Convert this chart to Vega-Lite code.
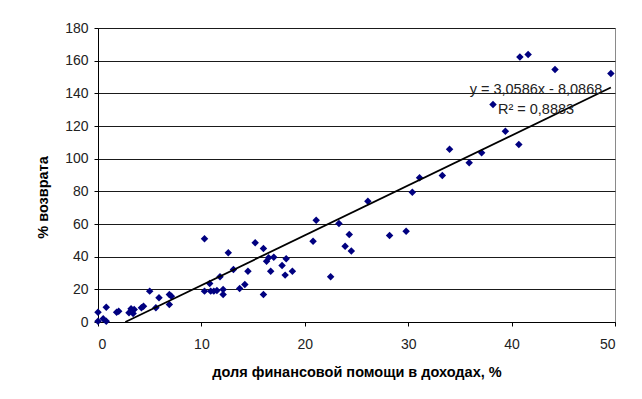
{
  "$schema": "https://vega.github.io/schema/vega-lite/v6.json",
  "autosize": {"type": "none"},
  "width": 517,
  "height": 294,
  "padding": {"left": 98, "top": 28, "right": 27, "bottom": 77},
  "background": "#ffffff",
  "config": {
    "font": "Liberation Sans",
    "view": {"stroke": "#8a8a8a", "strokeWidth": 1},
    "axis": {
      "domainColor": "#000000",
      "tickColor": "#000000",
      "tickSize": 4,
      "labelFont": "Liberation Sans",
      "labelFontSize": 14,
      "labelColor": "#222222",
      "labelOverlap": false,
      "titleFont": "Liberation Sans",
      "titleFontSize": 14.5,
      "titleFontWeight": "bold",
      "titleColor": "#000000"
    }
  },
  "datasets": {
    "points": [
      {"x": 0.0, "y": 6.0}, {"x": 0.0, "y": 0.5}, {"x": 0.5, "y": 2.0}, {"x": 0.8, "y": 9.1}, {"x": 0.8, "y": 0.5},
      {"x": 1.8, "y": 6.0}, {"x": 2.0, "y": 6.6}, {"x": 3.0, "y": 5.6}, {"x": 3.2, "y": 8.1}, {"x": 3.5, "y": 7.7},
      {"x": 3.4, "y": 5.2}, {"x": 4.2, "y": 8.7}, {"x": 4.4, "y": 9.7}, {"x": 5.0, "y": 18.9}, {"x": 5.6, "y": 8.7},
      {"x": 5.9, "y": 14.8}, {"x": 6.9, "y": 10.7}, {"x": 6.9, "y": 16.8}, {"x": 7.1, "y": 15.8}, {"x": 10.3, "y": 50.9},
      {"x": 10.3, "y": 18.9}, {"x": 10.8, "y": 23.6}, {"x": 10.9, "y": 18.9}, {"x": 11.2, "y": 18.9}, {"x": 11.5, "y": 19.3},
      {"x": 11.8, "y": 27.7}, {"x": 12.1, "y": 19.9}, {"x": 12.1, "y": 16.8}, {"x": 12.6, "y": 42.4}, {"x": 13.1, "y": 32.1},
      {"x": 13.7, "y": 20.5}, {"x": 14.2, "y": 23.0}, {"x": 14.5, "y": 31.1}, {"x": 15.2, "y": 48.5}, {"x": 16.0, "y": 45.0},
      {"x": 16.0, "y": 16.8}, {"x": 16.3, "y": 37.2}, {"x": 16.5, "y": 39.3}, {"x": 16.7, "y": 31.1}, {"x": 17.0, "y": 39.7},
      {"x": 17.8, "y": 34.6}, {"x": 18.1, "y": 28.7}, {"x": 18.2, "y": 38.7}, {"x": 18.8, "y": 31.1}, {"x": 20.8, "y": 49.5},
      {"x": 21.1, "y": 62.3}, {"x": 22.5, "y": 27.7}, {"x": 23.3, "y": 60.3}, {"x": 23.9, "y": 46.4}, {"x": 24.3, "y": 53.6},
      {"x": 24.5, "y": 43.4}, {"x": 26.1, "y": 74.0}, {"x": 28.2, "y": 53.0}, {"x": 29.8, "y": 55.6}, {"x": 30.4, "y": 79.5},
      {"x": 31.1, "y": 88.3}, {"x": 33.3, "y": 89.7}, {"x": 34.0, "y": 105.8}, {"x": 35.9, "y": 97.5}, {"x": 37.1, "y": 103.6},
      {"x": 38.2, "y": 133.2}, {"x": 39.4, "y": 116.8}, {"x": 40.7, "y": 108.7}, {"x": 40.8, "y": 162.2}, {"x": 41.6, "y": 163.8},
      {"x": 44.2, "y": 154.6}, {"x": 49.6, "y": 152.2}
    ],
    "trend": [
      {"x": 2.644, "y": 0},
      {"x": 49.6, "y": 143.6}
    ],
    "label": [
      {"text": "y = 3,0586x - 8,0868\nR² = 0,8883"}
    ]
  },
  "layer": [
    {
      "encoding": {
        "x": {
          "field": "x", "type": "quantitative",
          "scale": {"domain": [0, 50], "nice": false, "zero": false},
          "axis": {
            "values": [0, 10, 20, 30, 40, 50],
            "grid": false,
            "labelPadding": 11,
            "title": "доля финансовой помощи в доходах, %",
            "titleY": 50,
            "titleBaseline": "middle"
          }
        },
        "y": {
          "field": "y", "type": "quantitative",
          "scale": {"domain": [0, 180], "nice": false},
          "axis": {
            "values": [0, 20, 40, 60, 80, 100, 120, 140, 160, 180],
            "grid": true,
            "gridColor": "#1a1a1a",
            "gridOpacity": 1,
            "labelPadding": 6,
            "title": "% возврата",
            "titleX": -55,
            "titleY": 169,
            "titleBaseline": "middle"
          }
        }
      },
      "layer": [
        {
          "data": {"name": "points"},
          "mark": {"type": "point", "shape": "diamond", "filled": true, "color": "#000080", "opacity": 1, "size": 56}
        },
        {
          "data": {"name": "trend"},
          "mark": {"type": "line", "color": "#000000", "strokeWidth": 1.8}
        }
      ]
    },
    {
      "data": {"name": "label"},
      "mark": {"type": "text", "align": "center", "baseline": "middle", "fontSize": 14.5, "color": "#222222", "lineBreak": "\n", "lineHeight": 20, "font": "Liberation Sans"},
      "encoding": {
        "x": {
          "datum": 42.36, "type": "quantitative",
          "scale": {"domain": [0, 50], "nice": false, "zero": false},
          "axis": {
            "values": [0, 10, 20, 30, 40, 50],
            "grid": false,
            "labelPadding": 11,
            "title": "доля финансовой помощи в доходах, %",
            "titleY": 50,
            "titleBaseline": "middle"
          }
        },
        "y": {
          "datum": 142.3, "type": "quantitative",
          "scale": {"domain": [0, 180], "nice": false},
          "axis": {
            "values": [0, 20, 40, 60, 80, 100, 120, 140, 160, 180],
            "grid": true,
            "gridColor": "#1a1a1a",
            "gridOpacity": 1,
            "labelPadding": 6,
            "title": "% возврата",
            "titleX": -55,
            "titleY": 169,
            "titleBaseline": "middle"
          }
        },
        "text": {"field": "text"}
      }
    }
  ]
}
